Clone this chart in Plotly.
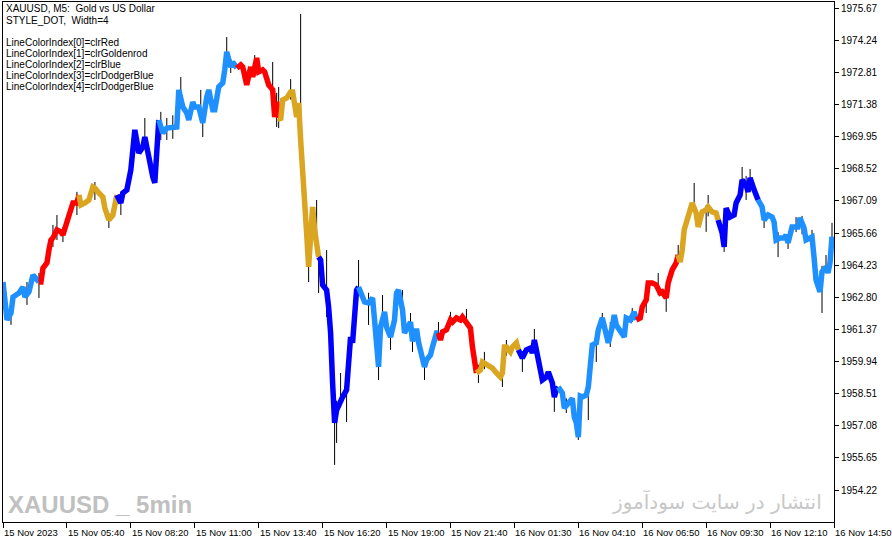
import plotly.graph_objects as go

# ---- data (bar index, close price) ----
bar_idx = [0, 2, 4, 5, 8, 10, 11, 13, 15, 16, 18, 19, 20, 22, 23, 24, 25, 27, 29, 30, 32, 34, 35, 37, 38,
           39, 41, 43, 45, 46, 48, 50, 51, 53, 55, 56, 57, 59, 60, 62, 64, 65, 66, 68, 70, 71, 73, 75, 76, 77, 78,
           80, 82, 85, 87, 88, 90, 92, 93, 95, 96, 98, 99, 100, 102, 103, 105, 106, 108, 110, 111, 112, 114, 115, 117,
           119, 120, 122, 124, 125, 127, 128, 130, 131, 133, 135, 136, 137, 138,
           139, 140, 142, 144, 145, 147, 148, 149, 150, 151, 152, 153, 154, 155, 156, 157, 158,
           159, 160, 162, 163, 164, 165, 166, 167, 169, 170, 172, 173, 174, 175, 176, 177, 178,
           179, 181, 183, 185, 186, 187, 188, 189, 191, 192, 194, 196, 197, 198, 200, 201, 203, 204, 205, 207, 208,
           210, 211, 212, 214, 215, 217, 218,
           219, 220, 222, 224, 225, 227, 229, 230, 232, 234, 235, 236, 237,
           239, 240, 242, 244, 245, 247, 249, 250, 251, 252, 254, 255, 257, 258,
           259, 260, 262, 264, 265, 266, 267, 268, 269, 270, 272, 273, 275, 276, 277, 278,
           280, 281, 283, 285, 286, 287, 288, 289, 290, 292, 293, 294, 295, 297, 298, 300, 301, 303, 305, 306, 307,
           309, 311, 312, 314, 316, 317,
           319, 320, 322, 323, 325, 327, 329, 330, 332, 333, 335, 337, 338,
           339, 340, 341, 344, 345, 347, 348, 350, 352, 353, 355, 357, 358,
           360, 361, 362, 364, 366, 367, 369, 370, 372, 373, 374, 376, 377, 378,
           380, 381, 383, 385, 386, 387, 389, 391, 392, 393, 395, 396, 398, 399, 401, 402, 404, 405, 406, 407,
           409, 410, 412, 413, 414, 415]

close_px = [1963.48, 1961.79, 1962.10, 1962.81, 1962.99, 1963.26, 1962.81, 1963.04, 1963.79, 1963.70, 1963.48,
            1963.48, 1964.10, 1964.33, 1964.90, 1965.35, 1965.44, 1965.80, 1965.71, 1965.57, 1966.15, 1966.77,
            1967.00, 1967.00, 1967.35,
            1966.91, 1967.00, 1967.13, 1967.71, 1967.66, 1967.44, 1967.26, 1966.77, 1966.24, 1966.46, 1967.00, 1967.35,
            1967.00, 1967.44, 1967.58, 1968.47, 1969.36, 1970.25, 1969.22, 1969.49, 1969.93, 1968.91, 1968.15,
            1967.89, 1969.49, 1970.69,
            1970.11, 1970.33, 1970.38, 1970.38, 1972.03, 1971.27, 1971.00, 1970.69, 1971.49, 1971.27, 1971.27,
            1971.00, 1970.56, 1971.71, 1972.03, 1971.14, 1971.14, 1972.16, 1972.34, 1972.92, 1973.72, 1973.05,
            1973.27, 1973.00,
            1973.14, 1973.05, 1972.25, 1973.05, 1972.60, 1973.45, 1972.83, 1972.92, 1972.83, 1972.25, 1972.03,
            1970.82, 1971.50, 1970.78,
            1970.69, 1971.58, 1971.67, 1971.94, 1971.94, 1970.82, 1971.45, 1969.80, 1968.02, 1966.55, 1965.66,
            1964.15, 1965.66, 1966.82, 1965.80, 1964.90, 1964.59,
            1964.46, 1963.35, 1963.12, 1962.37, 1961.21, 1958.99, 1957.21, 1957.78, 1958.23, 1958.36, 1958.68,
            1960.01, 1961.03, 1960.77, 1961.79, 1963.12, 1963.26,
            1962.99, 1962.59, 1962.55, 1962.77, 1961.79, 1960.32, 1959.70, 1961.48, 1962.15, 1961.48, 1961.03,
            1961.79, 1962.99, 1963.12, 1962.24, 1961.21, 1961.48, 1961.70, 1960.85, 1961.40, 1960.80,
            1960.14, 1959.70, 1960.01, 1960.23, 1960.59, 1961.21, 1961.21,
            1960.90, 1961.26, 1961.35, 1961.79, 1961.70, 1961.88, 1961.79, 1961.92, 1961.70, 1961.43, 1960.59,
            1960.01, 1959.43,
            1959.57, 1959.92, 1959.79, 1959.65, 1959.65, 1959.43, 1959.25, 1959.43, 1960.59, 1960.59, 1960.37,
            1960.59, 1960.77, 1960.46,
            1960.23, 1960.10, 1960.46, 1960.54, 1960.32, 1960.90, 1960.46, 1959.88, 1959.57, 1959.12, 1959.25,
            1959.48, 1958.99, 1958.36, 1958.68, 1958.81,
            1958.54, 1957.87, 1958.10, 1958.30, 1957.47, 1957.21, 1956.58, 1958.40, 1958.36, 1958.45, 1958.81,
            1959.88, 1960.68, 1960.77, 1961.35, 1961.88, 1961.43, 1960.77, 1961.48, 1962.01, 1961.57,
            1961.26, 1961.03, 1961.88, 1961.79, 1962.15, 1961.79,
            1961.88, 1962.37, 1962.68, 1963.44, 1963.44, 1963.35, 1962.99, 1963.04, 1962.77, 1963.44, 1964.02,
            1964.33, 1964.68,
            1964.37, 1964.90, 1965.80, 1966.69, 1967.00, 1966.55, 1965.93, 1966.60, 1966.69, 1966.82, 1966.60,
            1966.55, 1966.24,
            1965.66, 1965.04, 1966.77, 1966.37, 1966.46, 1967.00, 1967.35, 1968.02, 1967.80, 1967.49, 1968.11,
            1967.58, 1967.35, 1967.13,
            1966.82, 1966.24, 1966.46, 1966.37, 1966.15, 1965.35, 1965.44, 1965.44, 1965.57, 1965.22, 1965.93,
            1965.93, 1965.93, 1966.33, 1965.88, 1965.35, 1965.48, 1965.48, 1964.59, 1963.57,
            1963.04, 1963.93, 1964.15, 1963.88, 1964.33, 1965.50]

# high/low bars that stick out of the thick line
wick_idx = [4, 12, 18, 25, 27, 30, 37, 46, 53, 59, 71, 79, 82, 85, 89, 99, 100, 112, 114, 126, 135, 137, 138,
            144, 149, 153, 157, 158, 162, 166, 167, 169, 172, 178, 183, 188, 190, 194, 200, 204, 205, 211, 218,
            224, 232, 238, 241, 250, 252, 260, 266, 276, 282, 288, 293, 297, 300, 304, 315, 322, 328, 332, 338,
            346, 352, 353, 361, 370, 372, 374, 381, 388, 393, 397, 400, 405, 410, 412, 415]
wick_high = [1962.68, 1963.48, 1963.88, 1966.02, 1966.46, 1965.93, 1967.49, 1967.93, 1966.55, 1967.49, 1970.78,
             1971.05, 1970.78, 1970.90, 1972.60, 1972.03, 1970.90, 1974.38, 1973.40, 1973.58, 1973.27, 1971.90,
             1972.16, 1972.51, 1975.41, 1965.00, 1967.13, 1965.00, 1964.90, 1958.00, 1958.20, 1959.43, 1959.00,
             1964.46, 1963.00, 1960.00, 1962.90, 1961.50, 1963.12, 1962.10, 1961.20, 1960.00, 1961.70, 1962.15,
             1962.28, 1959.80, 1960.37, 1959.70, 1960.90, 1960.40, 1961.39, 1958.70, 1958.30, 1957.00, 1959.10,
             1961.00, 1962.10, 1961.70, 1962.32, 1962.90, 1963.88, 1963.00, 1965.13, 1967.89, 1966.90, 1967.35,
             1965.50, 1968.60, 1968.20, 1968.51, 1966.60, 1965.70, 1965.50, 1966.37, 1966.42, 1965.80, 1964.20,
             1964.68, 1966.11]
wick_low = [1961.57, 1962.46, 1962.77, 1965.04, 1965.35, 1965.26, 1966.46, 1967.13, 1965.88, 1966.46, 1969.80,
            1969.80, 1969.80, 1969.85, 1971.27, 1971.00, 1969.93, 1973.30, 1972.78, 1972.60, 1971.80, 1970.38,
            1970.33, 1971.60, 1969.50, 1963.48, 1964.80, 1962.99, 1961.92, 1955.34, 1956.32, 1957.90, 1957.25,
            1962.90, 1961.57, 1959.12, 1961.30, 1960.46, 1961.90, 1961.40, 1960.37, 1959.12, 1960.90, 1961.50,
            1961.50, 1958.99, 1959.60, 1958.81, 1960.20, 1959.48, 1960.60, 1957.70, 1957.65, 1956.45, 1957.34,
            1959.92, 1961.50, 1960.59, 1961.70, 1962.10, 1962.90, 1962.15, 1964.40, 1966.60, 1965.71, 1966.40,
            1964.82, 1967.80, 1967.13, 1967.80, 1965.88, 1964.59, 1964.95, 1965.70, 1965.60, 1965.20, 1962.10,
            1963.90, 1964.90]

# colour index segments (first bar of each segment)
seg_start = [0, 19, 39, 59, 79, 119, 139, 159, 179, 219, 239, 259, 279, 319, 339, 359, 379]
seg_color = ["#1E90FF", "#FF0000", "#DAA520", "#0000FF", "#1E90FF", "#FF0000", "#DAA520", "#0000FF",
             "#1E90FF", "#FF0000", "#DAA520", "#0000FF", "#1E90FF", "#FF0000", "#DAA520", "#0000FF", "#1E90FF"]

ytick_vals = [1975.67, 1974.24, 1972.81, 1971.38, 1969.95, 1968.52, 1967.09, 1965.66, 1964.23, 1962.80,
              1961.37, 1959.94, 1958.51, 1957.08, 1955.65, 1954.22]
xtick_bars = [0, 32, 64, 96, 128, 160, 192, 224, 256, 288, 320, 352, 384, 416]
xtick_labels = ["15 Nov 2023", "15 Nov 05:40", "15 Nov 08:20", "15 Nov 11:00", "15 Nov 13:40", "15 Nov 16:20",
                "15 Nov 19:00", "15 Nov 21:40", "16 Nov 01:30", "16 Nov 04:10", "16 Nov 06:50", "16 Nov 09:30",
                "16 Nov 12:10", "16 Nov 14:50"]

info_lines = ["XAUUSD, M5:  Gold vs US Dollar", "STYLE_DOT,  Width=4", "LineColorIndex[0]=clrRed",
              "LineColorIndex[1]=clrGoldenrod", "LineColorIndex[2]=clrBlue", "LineColorIndex[3]=clrDodgerBlue",
              "LineColorIndex[4]=clrDodgerBlue"]

FONT = "Liberation Sans, Arial, sans-serif"

fig = go.Figure()

wx, wy = [], []
for i, h, l in zip(wick_idx, wick_high, wick_low):
    wx += [i, i, None]
    wy += [l, h, None]
fig.add_trace(go.Scatter(x=wx, y=wy, mode="lines", line=dict(color="black", width=1),
                         hoverinfo="skip", showlegend=False))

bounds = seg_start + [10 ** 9]
for k, col in enumerate(seg_color):
    a, b = bounds[k], bounds[k + 1]
    xs, ys = [], []
    prev = [j for j, i in enumerate(bar_idx) if i < a]
    if prev:
        xs.append(bar_idx[prev[-1]])
        ys.append(close_px[prev[-1]])
    for i, p in zip(bar_idx, close_px):
        if a <= i < b:
            xs.append(i)
            ys.append(p)
    fig.add_trace(go.Scatter(x=xs, y=ys, mode="lines", line=dict(color=col, width=5.5),
                             hoverinfo="skip", showlegend=False))

annotations = []
for tv, tl in zip(xtick_bars, xtick_labels):
    annotations.append(dict(x=tv, y=0, xref="x", yref="paper", text=tl, showarrow=False,
                            xanchor="left", yanchor="top", xshift=-1, yshift=-3,
                            font=dict(family=FONT, size=9.5, color="black")))

info_y = [8, 20, 42, 53, 64, 75, 86]
for t, yy in zip(info_lines, info_y):
    annotations.append(dict(x=0, y=1, xref="paper", yref="paper", text=t, showarrow=False,
                            xanchor="left", yanchor="middle", xshift=1, yshift=-(yy - 2),
                            font=dict(family=FONT, size=10, color="black")))

annotations.append(dict(x=0, y=0, xref="paper", yref="paper", text="<b>XAUUSD _ 5min</b>", showarrow=False,
                        xanchor="left", yanchor="bottom", xshift=3, yshift=2,
                        font=dict(family="Liberation Sans Narrow, Liberation Sans, sans-serif",
                                  size=24, color="#C0C0C0")))
annotations.append(dict(x=1, y=0, xref="paper", yref="paper", text="انتشار در سایت سودآموز", showarrow=False,
                        xanchor="right", yanchor="bottom", xshift=-10, yshift=6,
                        font=dict(family="DejaVu Sans, sans-serif", size=20, color="#C8C8C8")))

fig.update_layout(
    width=892, height=543,
    margin=dict(l=3, r=58, t=2, b=21),
    paper_bgcolor="white", plot_bgcolor="white",
    showlegend=False,
    annotations=annotations,
    xaxis=dict(range=[0, 416], showgrid=False, zeroline=False, showline=True, linecolor="black",
               linewidth=1, mirror=True, ticks="outside", ticklen=5, tickcolor="black",
               tickvals=xtick_bars, showticklabels=False, fixedrange=True),
    yaxis=dict(range=[1952.80, 1975.94], side="right", showgrid=False, zeroline=False, showline=True,
               linecolor="black", linewidth=1, mirror=True, ticks="outside", ticklen=4, tickcolor="black",
               tickvals=ytick_vals, ticktext=[f"{v:.2f}" for v in ytick_vals],
               tickfont=dict(family=FONT, size=10, color="black"), fixedrange=True),
)

fig.write_html("out.html", config={"displayModeBar": False},
               post_script="document.body.style.margin='0px';")
